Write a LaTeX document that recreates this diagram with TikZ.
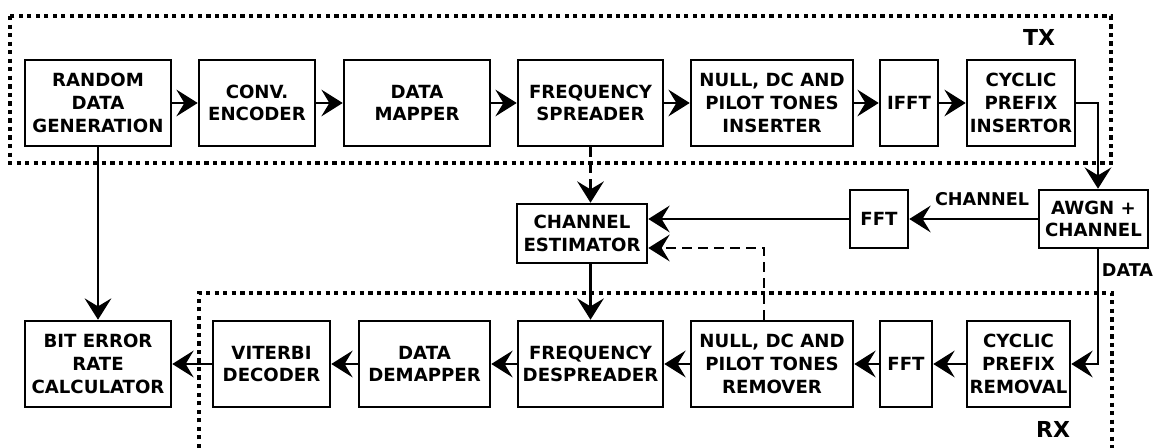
\documentclass[tikz,border=0pt]{standalone}
\usepackage{fontspec}
\setmainfont{DejaVu Sans}
\usetikzlibrary{arrows.meta}
\tikzset{
  blk/.style={draw, line width=1.9pt, align=center, inner sep=1pt, minimum height=64.5pt,
    font=\bfseries\fontsize{13.6}{17}\selectfont},
  arr/.style={line width=1.9pt, -{Stealth[length=16pt,width=20pt,inset=6pt]}},
  darr/.style={arr, dash pattern=on 7pt off 5pt},
  grp/.style={line width=2.9pt, dash pattern=on 3.2pt off 3.2pt},
  lbl/.style={font=\bfseries\fontsize{13.2}{15}\selectfont, inner sep=0pt},
  big/.style={font=\bfseries\fontsize{16.5}{18}\selectfont, inner sep=0pt}
}
\begin{document}
\begin{tikzpicture}[x=0.75pt,y=-0.75pt]
\useasboundingbox (0,0) rectangle (1155,448);
% groups
\draw[grp] (10,16) rectangle (1111,163);
\draw[grp] (199,448) -- (199,293) -- (1112,293) -- (1112,448);
\node[big] (tx) at (1039,37) {TX};
\node[big] (rx) at (1053,429) {RX};
% top row
\node[blk, minimum width=109.5pt] (rdg) at (98,103) {RANDOM\\DATA\\GENERATION};
\node[blk, minimum width=87pt] (conv) at (257,103) {CONV.\\ENCODER};
\node[blk, minimum width=109.5pt] (map) at (417,103) {DATA\\MAPPER};
\node[blk, minimum width=108.75pt] (spr) at (590.5,103) {FREQUENCY\\SPREADER};
\node[blk, minimum width=121.5pt] (ins) at (772,103) {NULL, DC AND\\PILOT TONES\\INSERTER};
\node[blk, minimum width=43.5pt] (ifft) at (909,103) {IFFT};
\node[blk, minimum width=81pt, inner sep=0pt] (cpi) at (1021,103) {CYCLIC\\PREFIX\\INSERTOR};
% middle
\node[blk, minimum width=97.5pt, minimum height=44.25pt] (est) at (582,233.5) {CHANNEL\\ESTIMATOR};
\node[blk, minimum width=43.5pt, minimum height=43.5pt] (fft2) at (879,219) {FFT};
\node[blk, minimum width=81.75pt, minimum height=43.5pt, inner sep=0pt] (awgn) at (1093.5,219) {AWGN +\\CHANNEL};
% bottom row
\node[blk, minimum width=109.5pt] (ber) at (98,364) {BIT ERROR\\RATE\\CALCULATOR};
\node[blk, minimum width=87.75pt] (vit) at (271.5,364) {VITERBI\\DECODER};
\node[blk, minimum width=98.25pt] (dem) at (424.5,364) {DATA\\DEMAPPER};
\node[blk, minimum width=108.75pt] (desp) at (590.5,364) {FREQUENCY\\DESPREADER};
\node[blk, minimum width=121.5pt] (rem) at (772,364) {NULL, DC AND\\PILOT TONES\\REMOVER};
\node[blk, minimum width=39pt] (fft3) at (906,364) {FFT};
\node[blk, minimum width=77.25pt, inner sep=0pt] (cpr) at (1018.5,364) {CYCLIC\\PREFIX\\REMOVAL};
% labels
\node[lbl] (lch) at (982,199) {CHANNEL};
\node[lbl] (ldata) at (1127.5,270.5) {DATA};
% coordinates
\coordinate (c1) at (1098,103);
\coordinate (c2) at (1098,364);
\coordinate (c3) at (764,248);
% top connectors
\draw[arr] (rdg) -- (conv);
\draw[arr] (conv) -- (map);
\draw[arr] (map) -- (spr);
\draw[arr] (spr) -- (ins);
\draw[arr] (ins) -- (ifft);
\draw[arr] (ifft) -- (cpi);
\draw[arr] (cpi.east) -- (c1) -- (c1 |- awgn.north);
\draw[arr] (c1 |- awgn.south) -- (c2) -- (cpr.east);
\draw[arr] (awgn.west) -- (fft2.east);
\draw[arr] (fft2.west) -- (fft2.west -| est.east);
\draw[darr] (c3 |- rem.north) -- (c3) -- (c3 -| est.east);
\draw[darr] (spr.south) -- (spr.south |- est.north);
\draw[arr] (spr.south |- est.south) -- (desp.north);
\draw[arr] (rdg) -- (ber);
% bottom connectors
\draw[arr] (cpr) -- (fft3);
\draw[arr] (fft3) -- (rem);
\draw[arr] (rem) -- (desp);
\draw[arr] (desp) -- (dem);
\draw[arr] (dem) -- (vit);
\draw[arr] (vit) -- (ber);
\end{tikzpicture}
\end{document}
